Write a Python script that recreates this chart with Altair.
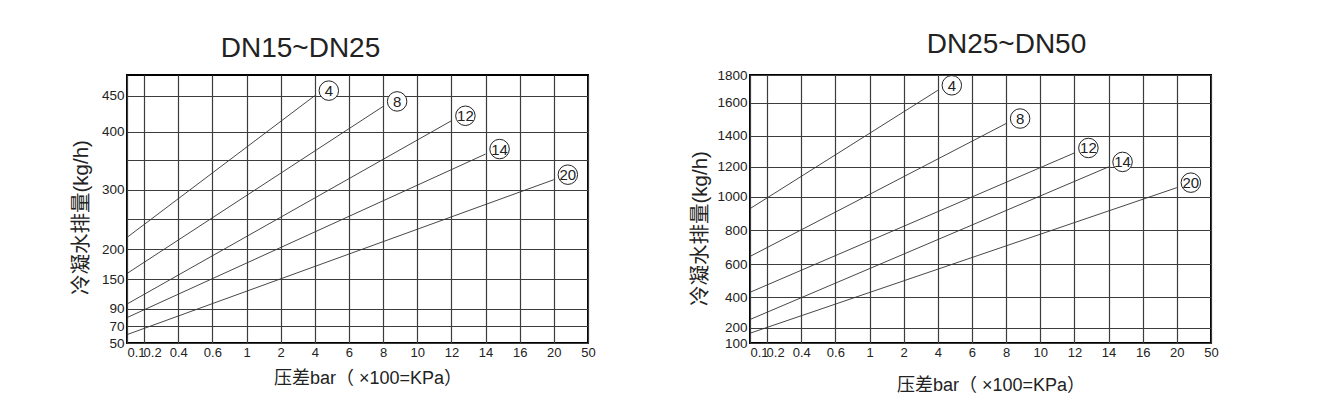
import altair as alt
import pandas as pd

# Pressure-difference axis (bar); the nomogram spaces these ticks in equal slots
X_TICKS = [0.1, 0.2, 0.4, 0.6, 1, 2, 4, 6, 8, 10, 12, 14, 16, 20, 50]
X_SLOTS = [0, 0.5, 1.5, 2.5, 3.5, 4.5, 5.5, 6.5, 7.5, 8.5, 9.5, 10.5, 11.5, 12.5, 13.5]

# Curves are identified by their maximum pressure (bar)
CURVES = [4, 8, 12, 14, 20]

# DN15~DN25: discharge (kg/h) at 0.1 bar and at the curve's maximum pressure
LEFT_START = [220, 160, 100, 80, 60]
LEFT_END = [450, 435, 415, 360, 317]
LEFT_Y_GRID = [50, 70, 90, 150, 200, 250, 300, 350, 400, 450, 480]
LEFT_Y_FRAC = [0, 0.0625, 0.1271, 0.237, 0.349, 0.4615, 0.571, 0.684, 0.789, 0.923, 1.0]
LEFT_Y_TICKS = [50, 70, 90, 150, 200, 250, 300, 350, 400, 450]
LEFT_Y_HIDDEN = [250, 350]

# DN25~DN50
RIGHT_START = [930, 647, 430, 255, 165]
RIGHT_END = [1690, 1475, 1290, 1200, 1062]
RIGHT_Y_GRID = [100, 200, 400, 600, 800, 1000, 1200, 1400, 1600, 1800]
RIGHT_Y_FRAC = [0, 0.0561, 0.1709, 0.2931, 0.4203, 0.5449, 0.6571, 0.7726, 0.8961, 1.0]

W, H = 461, 268
FONT = "Liberation Sans, Noto Sans CJK SC"
INK = "#222222"
GRID = "#3c3c3c"


def panel(title, starts, ends, y_grid, y_frac, y_ticks, hidden, title_dx, title_offset,
          ytitle_y, ytitle_pad, xtitle_pad):
    rows = []
    for c, s, e in zip(CURVES, starts, ends):
        rows.append({"curve": c, "p": X_TICKS[0], "q": s})
        rows.append({"curve": c, "p": c, "q": e})
    lines_df = pd.DataFrame(rows)
    labels_df = pd.DataFrame({"p": CURVES, "q": ends, "t": [str(c) for c in CURVES]})

    xscale = alt.Scale(domain=X_TICKS, range=[W * s / X_SLOTS[-1] for s in X_SLOTS],
                       nice=False, zero=False)
    yscale = alt.Scale(domain=y_grid, range=[H * (1 - f) for f in y_frac],
                       nice=False, zero=False)

    hide = " || ".join(f"datum.value == {v}" for v in hidden) if hidden else "false"
    xaxis = alt.Axis(values=X_TICKS, tickCount=100, grid=True, ticks=False, domain=False,
                     labelExpr="'' + datum.value", labelFontSize=13, labelColor=INK,
                     labelFont=FONT, labelPadding=3, labelOverlap=False,
                     labelAlign={"condition": {"test": "datum.value == 0.1",
                                               "value": "left"}, "value": "center"},
                     labelOffset={"condition": {"test": "datum.value == 0.2",
                                                "value": 8}, "value": 0},
                     gridColor=GRID, gridWidth=1.2, gridOpacity=1,
                     title="压差bar（ ×100=KPa）", titleFontSize=18, titleFont=FONT,
                     titleFontWeight="normal", titleColor=INK, titlePadding=xtitle_pad,
                     titleX=W / 2 + 10)
    yaxis = alt.Axis(values=y_ticks, tickCount=100, grid=True, ticks=False, domain=False,
                     labelExpr=f"({hide}) ? '' : '' + datum.value", labelFontSize=13.5,
                     labelColor=INK, labelFont=FONT, labelPadding=3, labelOverlap=False,
                     gridColor=GRID, gridWidth=1.2, gridOpacity=1,
                     title="冷凝水排量(kg/h)", titleFontSize=20.5, titleFont=FONT,
                     titleFontWeight="normal", titleColor=INK, titlePadding=ytitle_pad,
                     titleY=ytitle_y)

    base_lines = alt.Chart(lines_df).mark_line(color="#333333", strokeWidth=0.9).encode(
        x=alt.X("p:Q", scale=xscale, axis=xaxis),
        y=alt.Y("q:Q", scale=yscale, axis=yaxis),
        detail="curve:N",
    )
    circles = alt.Chart(labels_df).mark_point(
        shape="circle", size=380, filled=True, fill="white", stroke="#222222",
        strokeWidth=1, opacity=1, xOffset=14, yOffset=-5,
    ).encode(x=alt.X("p:Q", scale=xscale), y=alt.Y("q:Q", scale=yscale))
    texts = alt.Chart(labels_df).mark_text(
        fontSize=15, font=FONT, color=INK, dx=14, dy=-4.5, align="center",
        baseline="middle",
    ).encode(x=alt.X("p:Q", scale=xscale), y=alt.Y("q:Q", scale=yscale), text="t:N")

    return alt.layer(base_lines, circles, texts).properties(
        width=W, height=H,
        title=alt.TitleParams(title, fontSize=28, font=FONT, fontWeight="normal",
                              color=INK, anchor="middle", dx=title_dx,
                              offset=title_offset),
    )


left = panel("DN15~DN25", LEFT_START, LEFT_END, LEFT_Y_GRID, LEFT_Y_FRAC, LEFT_Y_TICKS,
             LEFT_Y_HIDDEN, -57, 12, 142, 10, 10)
right = panel("DN25~DN50", RIGHT_START, RIGHT_END, RIGHT_Y_GRID, RIGHT_Y_FRAC,
              RIGHT_Y_GRID, [], 26, 9, 153, 6, 17)

chart = alt.hconcat(left, right, spacing=92).properties(
    padding={"left": 70, "top": 30, "right": 5, "bottom": 5},
    background="white",
).configure_view(stroke="black", strokeWidth=2)

chart.save("out.html", embed_options={"renderer": "svg", "actions": False})
